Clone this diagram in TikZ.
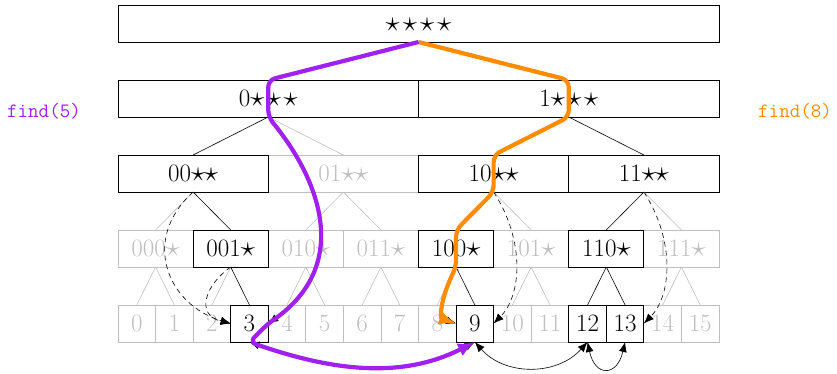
\documentclass[tikz,border=0pt]{standalone}
\usepackage{fontspec}
\usetikzlibrary{arrows.meta}
\definecolor{gr}{gray}{0.75}
\definecolor{purp}{RGB}{160,32,240}
\definecolor{orng}{RGB}{255,140,0}
\newcommand\stx{\scalebox{1.15}{$\star$}}
\tikzset{
  box/.style={draw=black, line width=0.8pt, rectangle, inner sep=0pt, outer sep=0pt,
    minimum height=37pt, text height=16pt, text depth=0pt, font=\fontsize{25}{30}\selectfont},
  gbox/.style={box, draw=gr, text=gr},
  tedge/.style={line width=0.6pt, draw=black},
  gedge/.style={line width=0.6pt, draw=gr},
  ptr/.style={dash pattern=on 5pt off 4pt, line width=0.6pt, -{Latex[length=10pt,width=8pt]}},
  lnk/.style={line width=0.6pt, {Latex[length=10pt,width=8pt]}-{Latex[length=10pt,width=8pt]}},
  qpath/.style={line width=4.2pt, rounded corners=7pt, -{Latex[length=17pt,width=14pt]}},
  qlabel/.style={font=\fontsize{20.4}{24}\selectfont\ttfamily, inner sep=0pt},
}
\begin{document}
\begin{tikzpicture}[x=1pt,y=-1pt]
\useasboundingbox (0,0) rectangle (837,373);
% gray nodes first
\node[gbox, minimum width=150.25pt] (b1) at (343.375,173.5) {01\stx\hspace{-1.1pt}\stx};
\foreach \k/\lab in {0/000,2/010,3/011,5/101,7/111}
  \node[gbox, minimum width=75.125pt] (c\k) at ({155.5625+75.125*\k},248.5) {\lab\stx};
\foreach \k in {0,1,2,4,5,6,7,8,10,11,14,15}
  \node[gbox, minimum width=37.5625pt] (d\k) at ({136.78125+37.5625*\k},323.5) {\k};
% black nodes
\node[box, minimum width=601pt] (r) at (418.5,23.5) {\stx\hspace{3.3pt}\stx\hspace{3.3pt}\stx\hspace{3.3pt}\stx};
\node[box, minimum width=300.5pt] (a0) at (268.25,98.5) {0\stx\hspace{2.6pt}\stx\hspace{2.6pt}\stx};
\node[box, minimum width=300.5pt] (a1) at (568.75,98.5) {1\stx\hspace{2.6pt}\stx\hspace{2.6pt}\stx};
\node[box, minimum width=150.25pt] (b0) at (193.125,173.5) {00\stx\hspace{-1.1pt}\stx};
\node[box, minimum width=150.25pt] (b2) at (493.625,173.5) {10\stx\hspace{-1.1pt}\stx};
\node[box, minimum width=150.25pt] (b3) at (643.875,173.5) {11\stx\hspace{-1.1pt}\stx};
\foreach \k/\lab in {1/001,4/100,6/110}
  \node[box, minimum width=75.125pt] (c\k) at ({155.5625+75.125*\k},248.5) {\lab\stx};
\foreach \k in {3,9,12,13}
  \node[box, minimum width=37.5625pt] (d\k) at ({136.78125+37.5625*\k},323.5) {\k};
% labels
\node[qlabel, text=purp] (f5) at (44,111) {find(5)};
\node[qlabel, text=orng] (f8) at (795,111) {find(8)};
% gray tree edges
\draw[gedge] (a0.south) -- (b1.north);
\draw[gedge] (b0.south) -- (c0.north);
\draw[gedge] (b1.south) -- (c2.north);
\draw[gedge] (b1.south) -- (c3.north);
\draw[gedge] (b2.south) -- (c5.north);
\draw[gedge] (b3.south) -- (c7.north);
\draw[gedge] (c0.south) -- (d0.north);
\draw[gedge] (c0.south) -- (d1.north);
\draw[gedge] (c1.south) -- (d2.north);
\draw[gedge] (c2.south) -- (d4.north);
\draw[gedge] (c2.south) -- (d5.north);
\draw[gedge] (c3.south) -- (d6.north);
\draw[gedge] (c3.south) -- (d7.north);
\draw[gedge] (c4.south) -- (d8.north);
\draw[gedge] (c5.south) -- (d10.north);
\draw[gedge] (c5.south) -- (d11.north);
\draw[gedge] (c7.south) -- (d14.north);
\draw[gedge] (c7.south) -- (d15.north);
% black tree edges
\draw[tedge] (a0.south) -- (b0.north);
\draw[tedge] (a1.south) -- (b3.north);
\draw[tedge] (b0.south) -- (c1.north);
\draw[tedge] (b3.south) -- (c6.north);
\draw[tedge] (c1.south) -- (d3.north);
\draw[tedge] (c4.south) -- (d9.north);
\draw[tedge] (c6.south) -- (d12.north);
\draw[tedge] (c6.south) -- (d13.north);
% descendant pointers
\draw[ptr] (b0.south) .. controls (140,240) and (168,305) .. (d3.west);
\draw[ptr] (c1.south) .. controls (205,285) and (195,315) .. (d3.west);
\draw[ptr] (a0.south) .. controls (320,180) and (352,265) .. (d3.east);
\draw[ptr] (b2.south) .. controls (525,240) and (522,295) .. (d9.east);
\draw[ptr] (b3.south) .. controls (675,240) and (672,295) .. (d13.east);
\draw[ptr] (c4.south) .. controls (440,300) and (440,318) .. (d9.west);
% leaf links
\draw[lnk] (d3.south) .. controls (330,370) and (400,380) .. (d9.south);
\draw[lnk] (d9.south) .. controls (505,376) and (557,376) .. (d12.south);
\draw[lnk] (d12.south) .. controls (595,377) and (617,377) .. (d13.south);
% query paths
\draw[qpath, orng] (r.south) -- (a1.north) -- (a1.south) -- (b2.north) -- (b2.south)
  -- (c4.north) -- (c4.south) .. controls (440,300) and (440,318) .. (d9.west);
\draw[qpath, purp] (r.south) -- (a0.north) -- (a0.south)
  .. controls (320,180) and (352,265) .. (d3.east) -- (d3.south)
  .. controls (330,370) and (400,380) .. (d9.south);
\end{tikzpicture}
\end{document}
